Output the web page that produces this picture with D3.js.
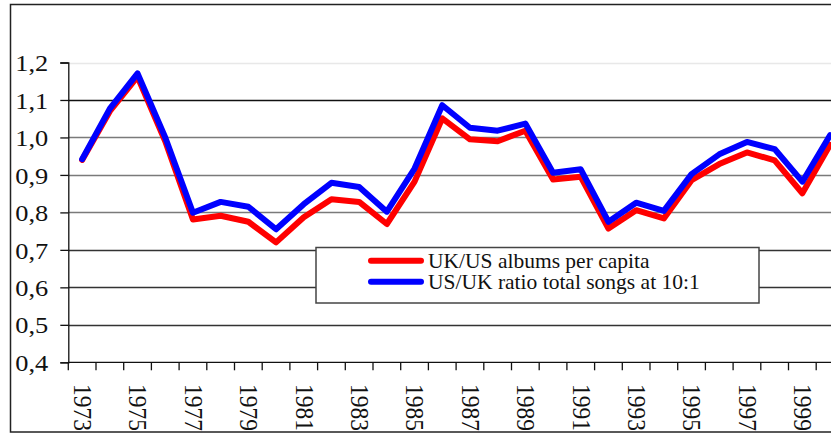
<!DOCTYPE html>
<html>
<head>
<meta charset="utf-8">
<script src="https://cdn.jsdelivr.net/npm/d3@7/dist/d3.min.js"></script>
</head>
<body style="margin:0;background:#fff">
<div id="chart"></div>
<script>
// data
var years = d3.range(1973, 2001)
var albumsPerCapita = [0.94, 1.07, 1.162, 0.99, 0.781, 0.791, 0.775, 0.72, 0.787, 0.835, 0.828, 0.769, 0.882, 1.051,
	0.995, 0.99, 1.018, 0.888, 0.895, 0.757, 0.806, 0.784, 0.886, 0.929, 0.96, 0.939, 0.851, 0.98]
var totalSongs = [0.942, 1.077, 1.171, 1.0, 0.799, 0.828, 0.815, 0.755, 0.822, 0.879, 0.868, 0.802, 0.917, 1.086,
	1.026, 1.018, 1.037, 0.906, 0.915, 0.775, 0.826, 0.804, 0.902, 0.955, 0.988, 0.969, 0.882, 1.006]
var yTicks = [0.4, 0.5, 0.6, 0.7, 0.8, 0.9, 1.0, 1.1, 1.2]
var seriesNames = ["UK/US albums per capita", "US/UK ratio total songs at 10:1"]
var seriesColors = ["#ff0000", "#0000ff"]

var w = 831, h = 435
var serif = "'Liberation Serif', 'Times New Roman', serif"

var svg = d3.select("#chart")
	.append("svg")
	.attr("width", w)
	.attr("height", h)
	.style("display", "block")
	.style("overflow", "hidden")

// outer chart border (right side runs off the picture)
svg.append("rect")
	.attr("x", 10.5).attr("y", 4.5)
	.attr("width", 900).attr("height", 427.5)
	.attr("fill", "#fff")
	.attr("stroke", "#222")
	.attr("stroke-width", 1.5)

// plot area edges ("top" is taken by window.top, so prefixed names)
var plotLeft = 68.3, plotBottom = 362.3, plotTop = 62.5, step = 27.7

var x = d3.scaleBand()
	.domain(years)
	.range([plotLeft, plotLeft + step * years.length])
	.padding(0)

var y = d3.scaleLinear()
	.domain([0.4, 1.2])
	.range([plotBottom, plotTop])

// gridlines
var gridColor = function(v) {
	if (v > 1.15) return "#e8e8e8"
	if (v > 1.05) return "#111"
	if (v > 0.75) return "#7a7a7a"
	return "#333"
}
svg.append("g")
	.selectAll("line")
	.data(yTicks.slice(1))
	.enter().append("line")
	.attr("x1", plotLeft).attr("x2", w + 20)
	.attr("y1", d => Math.round(y(d)) + 0.5)
	.attr("y2", d => Math.round(y(d)) + 0.5)
	.attr("stroke", gridColor)
	.attr("stroke-width", 1.3)

// y axis
var yAxis = d3.axisLeft(y)
	.tickValues(yTicks)
	.tickSize(8)
	.tickFormat(d => d3.format(".1f")(d).replace(".", ","))

var yg = svg.append("g")
	.attr("transform", "translate(" + plotLeft + ",0)")
	.call(yAxis)
yg.select(".domain").attr("stroke", "#111").attr("stroke-width", 1.3)
yg.selectAll(".tick line").attr("stroke", "#111").attr("stroke-width", 1.3)
yg.selectAll(".tick text")
	.style("font-family", serif)
	.style("font-size", "24px")
	.attr("fill", "#111")
	.attr("x", 0)
	.attr("dy", "0.34em")
	.attr("transform", "translate(-20,0) scale(1.1,1)")

// x axis line and ticks at category edges
svg.append("line")
	.attr("x1", plotLeft).attr("x2", w + 20)
	.attr("y1", plotBottom).attr("y2", plotBottom)
	.attr("stroke", "#111").attr("stroke-width", 1.3)

svg.append("g")
	.selectAll("line")
	.data(years.concat([2001]))
	.enter().append("line")
	.attr("x1", (d, i) => plotLeft + i * x.bandwidth())
	.attr("x2", (d, i) => plotLeft + i * x.bandwidth())
	.attr("y1", plotBottom).attr("y2", plotBottom + 8)
	.attr("stroke", "#111").attr("stroke-width", 1.3)

// rotated year labels, every other year
svg.append("g")
	.selectAll("text")
	.data(years.filter((d, i) => i % 2 == 0))
	.enter().append("text")
	.attr("transform", d => "translate(" + (x(d) + x.bandwidth() / 2) + ",384) rotate(90) scale(1,1.06)")
	.attr("dy", "0.33em")
	.style("font-family", serif)
	.style("font-size", "23.5px")
	.attr("fill", "#111")
	.text(d => d)

// lines
var line = d3.line()
	.x((d, i) => x(years[i]) + x.bandwidth() / 2)
	.y(d => y(d))

var linesG = svg.append("g")
	.attr("fill", "none")
	.attr("stroke-width", 6)
	.attr("stroke-linejoin", "round")
	.attr("stroke-linecap", "round")

linesG.append("path")
	.attr("d", line(albumsPerCapita))
	.attr("stroke", seriesColors[0])

linesG.append("path")
	.attr("d", line(totalSongs))
	.attr("stroke", seriesColors[1])

// legend
var legend = svg.append("g")
legend.append("rect")
	.attr("x", 316).attr("y", 247.5)
	.attr("width", 443).attr("height", 55.5)
	.attr("fill", "#fff")
	.attr("stroke", "#444")
	.attr("stroke-width", 1.5)

var legendRows = legend.selectAll("g.row")
	.data(seriesNames)
	.enter().append("g")
	.attr("class", "row")
	.attr("transform", (d, i) => "translate(0," + (260.7 + i * 21) + ")")

legendRows.append("line")
	.attr("x1", 371).attr("x2", 421)
	.attr("stroke", (d, i) => seriesColors[i])
	.attr("stroke-width", 6)
	.attr("stroke-linecap", "round")

legendRows.append("text")
	.attr("x", 428)
	.attr("y", 7.5)
	.style("font-family", serif)
	.style("font-size", "21.5px")
	.attr("fill", "#111")
	.text(d => d)
</script>
</body>
</html>
